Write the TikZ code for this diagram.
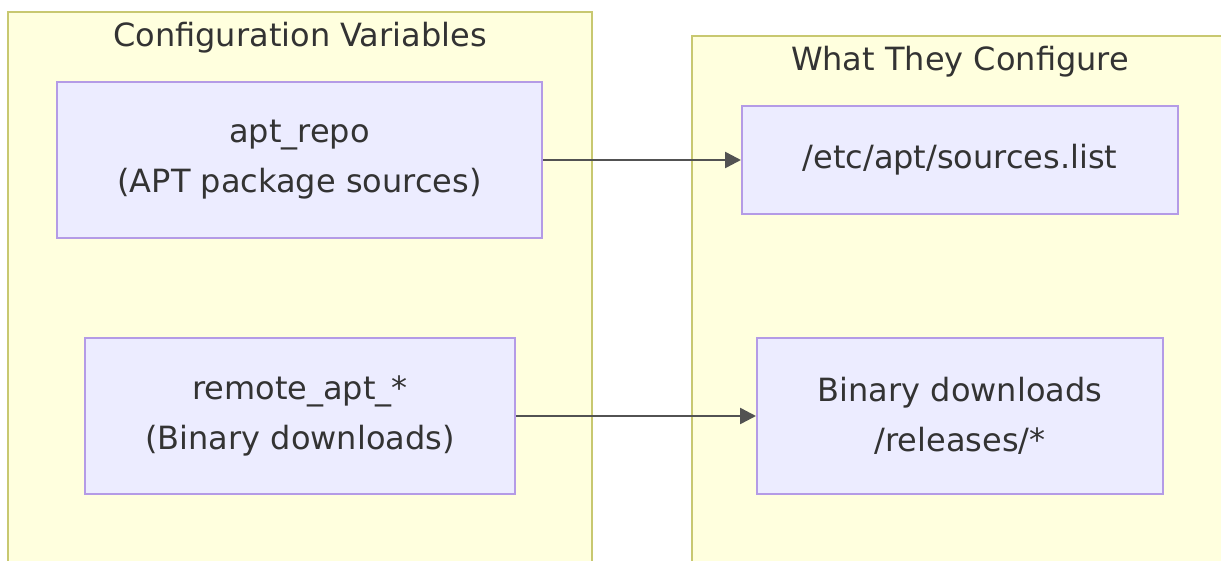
\documentclass[tikz,border=0pt]{standalone}
\usepackage{fontspec}
\setmainfont{DejaVu Sans}
\usetikzlibrary{arrows.meta}
\definecolor{clfill}{HTML}{FFFFDE}
\definecolor{clline}{HTML}{C8C870}
\definecolor{ndfill}{HTML}{ECECFF}
\definecolor{ndline}{HTML}{B49BE6}
\definecolor{txt}{HTML}{333333}
\tikzset{
  cluster/.style={fill=clfill, draw=clline, line width=2pt},
  box/.style={fill=ndfill, draw=ndline, line width=2pt, text=txt, align=center,
    font=\fontsize{32}{50}\selectfont},
  ttl/.style={text=txt, font=\fontsize{32}{32}\selectfont},
  link/.style={draw=txt!85, line width=2.5pt, -{Triangle[length=16pt,width=16pt]}},
}
\begin{document}
\begin{tikzpicture}[x=1pt,y=-1pt]
\useasboundingbox (0,0) rectangle (1221,560);
\clip (0,0) rectangle (1221,560);
\draw[cluster] (8,12) rectangle (592,600);
\draw[cluster] (692,36) rectangle (1260,600);
\node[ttl] (t1) at (300,38) {Configuration Variables};
\node[ttl] (t2) at (960,62) {What They Configure};
\node[box, minimum width=485pt, minimum height=156pt] (a) at (299.5,160) {apt\_repo\\(APT package sources)};
\node[box, minimum width=430pt, minimum height=156pt] (b) at (300,416) {remote\_apt\_*\\(Binary downloads)};
\node[box, minimum width=436pt, minimum height=108pt] (c) at (960,160) {/etc/apt/sources.list};
\node[box, minimum width=406pt, minimum height=156pt] (d) at (960,416) {Binary downloads\\/releases/*};
\draw[link] (a.east) -- (c.west);
\draw[link] (b.east) -- (d.west);
\end{tikzpicture}
\end{document}
